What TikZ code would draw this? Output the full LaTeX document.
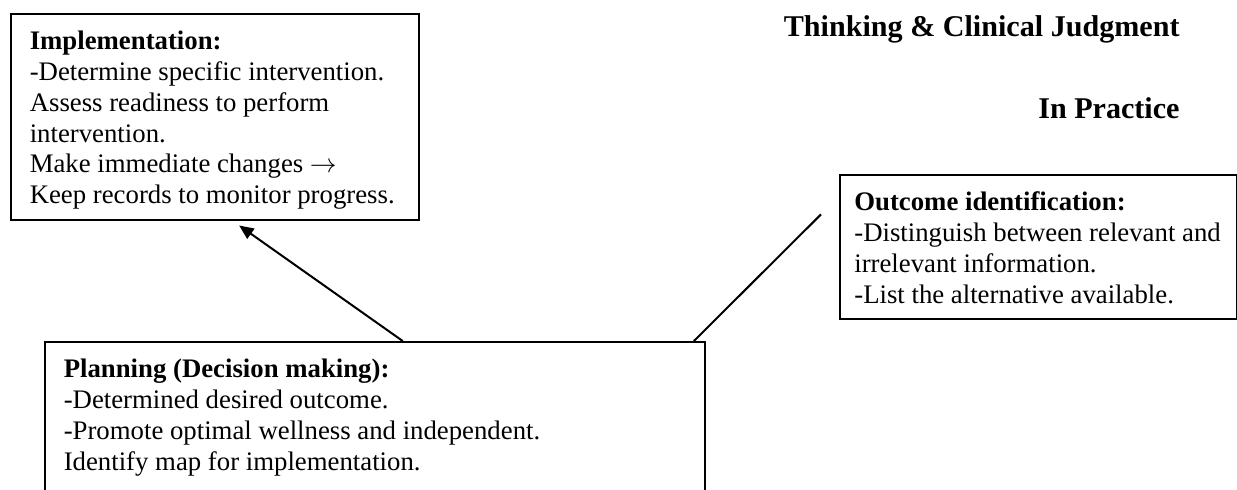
\documentclass[tikz,border=0pt]{standalone}
\usepackage{fontspec}
\setmainfont{Liberation Serif}
\usepackage{tikz}
\usetikzlibrary{arrows.meta,calc}

\begin{document}
\begin{tikzpicture}[x=0.4484pt,y=-0.4484pt,font=\fontsize{12}{13.8}\selectfont,
  stagebox/.style={draw,line width=0.75pt,anchor=north west,align=left,inner xsep=8.5pt,inner ysep=4.4pt,
    execute at begin node={\spaceskip=0.25em plus 0.1em\xspaceskip=0.25em plus 0.1em\rule{0pt}{11.7pt}},
    execute at end node={\rule[-2.8pt]{0pt}{2.8pt}}},
  headline/.style={font=\fontsize{13.5}{16}\selectfont\bfseries,anchor=base east,inner sep=0pt},
  link/.style={line width=0.9pt}]
\useasboundingbox (0,0) rectangle (1237,489);
\clip (0,0) rectangle (1237,489);
\node[headline] (ttl) at (1180,36) {Thinking \& Clinical Judgment};
\node[headline] (sub) at (1180,118) {In Practice};
\node[stagebox,text width=166pt] (impl) at (10,13) {\textbf{Implementation:}\\
  -Determine specific intervention.\\
  Assess readiness to perform\\
  intervention.\\
  Make immediate changes $\rightarrow$\\
  Keep records to monitor progress.};
\node[stagebox,text width=165pt,inner xsep=6.5pt] (outc) at (839,174) {\textbf{Outcome identification:}\\
  -Distinguish between relevant and\\
  irrelevant information.\\
  -List the alternative available.};
\node[stagebox,text width=279pt] (plan) at (44,341) {\textbf{Planning (Decision making):}\\
  -Determined desired outcome.\\
  -Promote optimal wellness and independent.\\
  Identify map for implementation.\\ \mbox{}};
\draw[link,-{Triangle[length=6.5pt,width=5.5pt]}] ($(plan.north west)!0.542!(plan.north east)$)
  -- ([yshift=-2.2pt]$(impl.south west)!0.559!(impl.south east)$);
\draw[link] ($(plan.north west)!0.982!(plan.north east)$) -- ([shift={(-8.1pt,14.6pt)}]outc.west);
\end{tikzpicture}
\end{document}
